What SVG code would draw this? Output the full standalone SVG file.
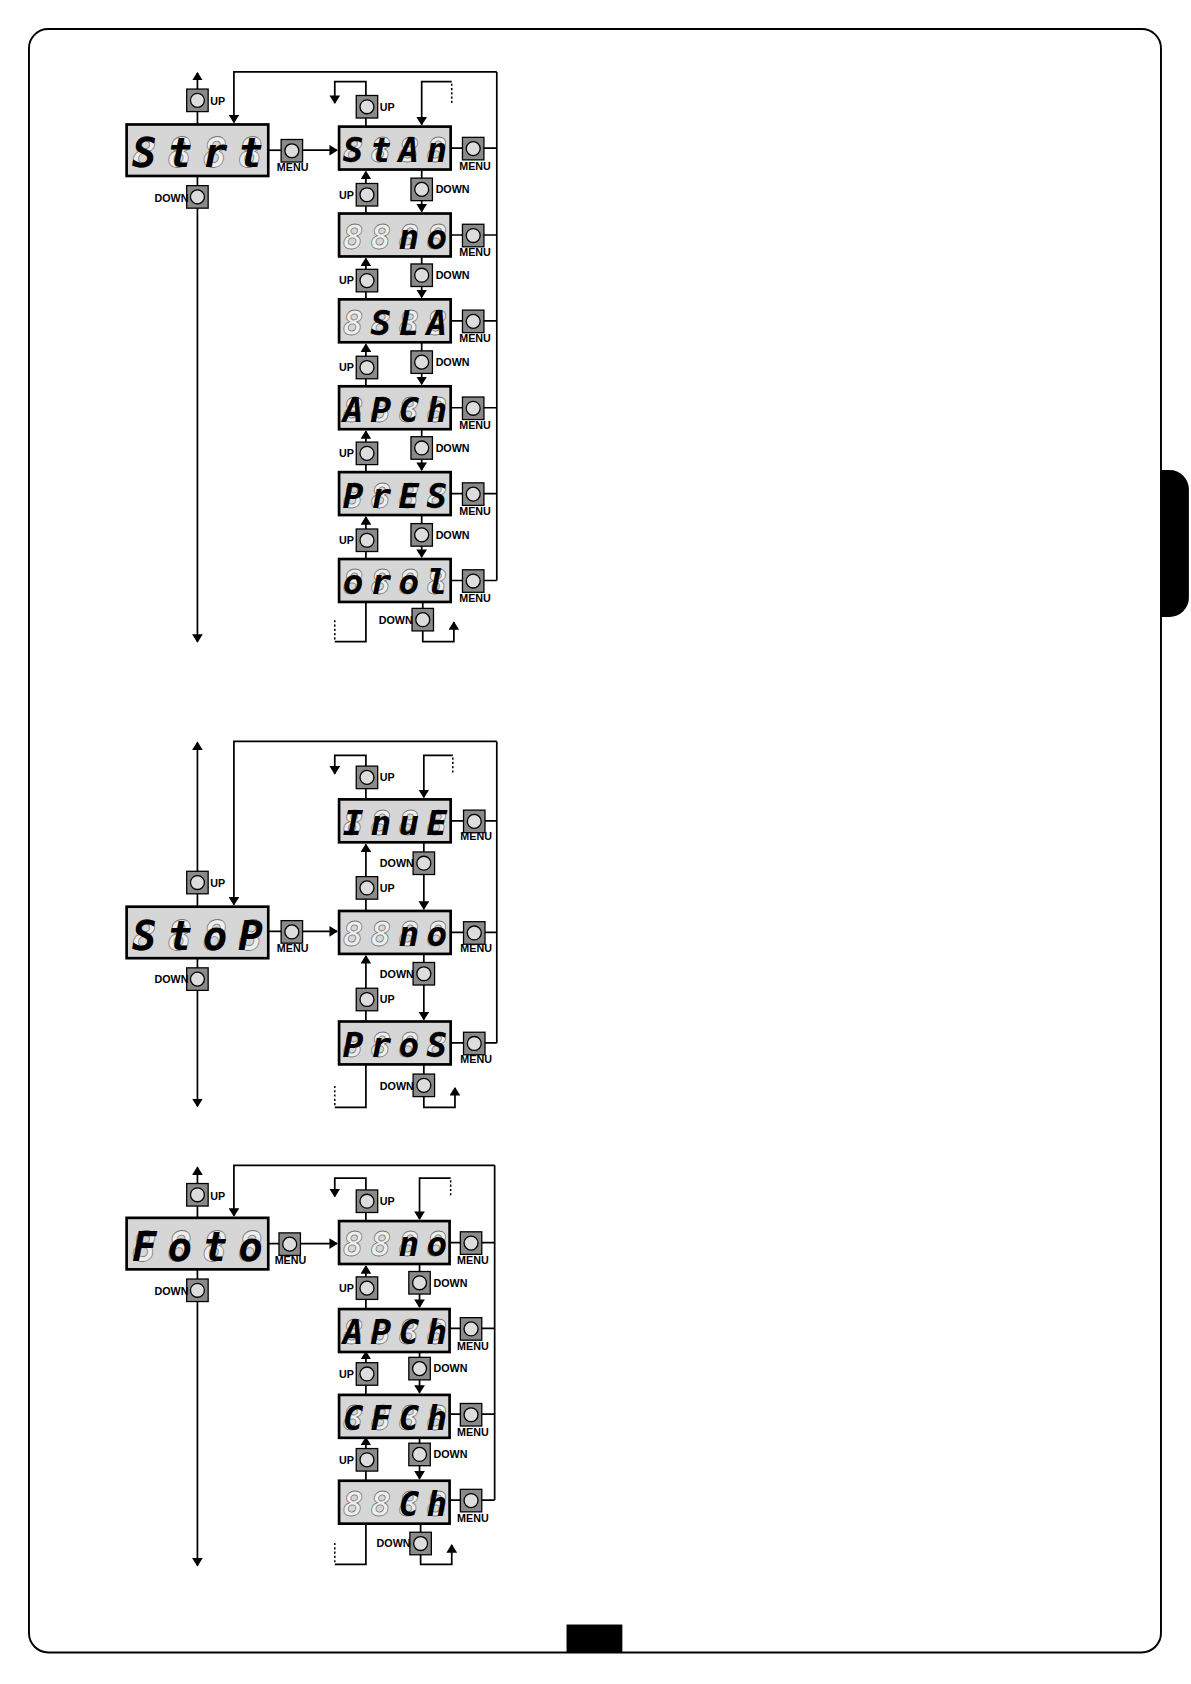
<svg xmlns="http://www.w3.org/2000/svg" xmlns:xlink="http://www.w3.org/1999/xlink" width="1191" height="1684" viewBox="0 0 1191 1684">
<style>
.c{fill:none;stroke:#000;stroke-width:1.6}
.a{fill:none;stroke:#000;stroke-width:1.6;marker-end:url(#ar)}
.d{fill:none;stroke:#000;stroke-width:1.4;stroke-dasharray:2,2}
.disp{fill:#d6d6d6;stroke:#000;stroke-width:2.5}
.lb{font-family:"Liberation Sans",Arial,sans-serif;font-weight:bold;font-size:10px;fill:#000}
.g{font-family:"DejaVu Sans Mono",monospace;font-weight:bold;font-style:italic;fill:#eee;stroke:#777;stroke-width:0.7;text-anchor:middle}
.l{font-family:"DejaVu Sans Mono",monospace;font-weight:bold;font-style:italic;fill:#000;text-anchor:middle}
.big{font-size:38px}.sm{font-size:32px}
</style>
<defs>
<marker id="ar" markerWidth="8" markerHeight="10" refX="7" refY="5" orient="auto" markerUnits="userSpaceOnUse"><path d="M0,0 L8,5 L0,10 z" fill="#000"/></marker>
<g id="btn"><rect width="20" height="21" fill="#8a8a8a" stroke="#000" stroke-width="1.2"/><circle cx="10" cy="10.5" r="6.5" fill="#ddd" stroke="#000" stroke-width="1.2"/></g>
</defs>
<rect width="1191" height="1684" fill="#fff"/>
<g transform="scale(1.073)">
<rect x="27" y="27" width="1055" height="1513" rx="18" fill="none" stroke="#000" stroke-width="1.8"/>
<path d="M1082,438 h8 a18,18 0 0 1 18,18 v101 a18,18 0 0 1 -18,18 h-8 z" fill="#000"/>
<rect x="528" y="1514" width="52" height="26" fill="#000"/>

<g id="connectors">
<!-- section 1 -->
<path class="a" d="M184,116 V68"/><path class="a" d="M184,164 V598"/>
<path class="a" d="M463,67 H218 V114"/><path class="c" d="M463,67 V541"/>
<path class="c" d="M250,140 H262"/><path class="a" d="M282,140 H314"/>
<path class="c" d="M420,138 H463 M420,219 H463 M420,299 H463 M420,380 H463 M420,460 H463 M420,541 H463"/>
<path class="a" d="M393,158 V197"/><path class="a" d="M341,199 V160"/>
<path class="a" d="M393,239 V277"/><path class="a" d="M341,279 V241"/>
<path class="a" d="M393,319 V358"/><path class="a" d="M341,360 V321"/>
<path class="a" d="M393,400 V438"/><path class="a" d="M341,440 V402"/>
<path class="a" d="M393,480 V519"/><path class="a" d="M341,521 V482"/>
<path class="a" d="M341,118 V76 H312 V96"/><path class="a" d="M421,76 H393 V116"/><path class="d" d="M421,78 V96"/>
<path class="c" d="M341,561 V598 H312"/><path class="d" d="M312,596 V578"/><path class="a" d="M394,561 V598 H423 V580"/>
<!-- section 2 -->
<path class="a" d="M184,845 V692"/><path class="a" d="M184,893 V1031"/>
<path class="a" d="M463,691 H218 V843"/><path class="c" d="M463,691 V972"/>
<path class="c" d="M250,868 H262"/><path class="a" d="M282,868 H314"/>
<path class="c" d="M420,765 H463 M420,869 H463 M420,972 H463"/>
<path class="a" d="M395,785 V847"/><path class="a" d="M341,849 V787"/>
<path class="a" d="M395,889 V950"/><path class="a" d="M341,952 V891"/>
<path class="a" d="M341,745 V704 H312 V721"/><path class="a" d="M422,704 H395 V743"/><path class="d" d="M422,706 V722"/>
<path class="c" d="M341,992 V1032 H312"/><path class="d" d="M312,1030 V1012"/><path class="a" d="M395,992 V1032 H424 V1014"/>
<!-- section 3 -->
<path class="a" d="M184,1135 V1088"/><path class="a" d="M184,1183 V1459"/>
<path class="a" d="M461,1086 H218 V1133"/><path class="c" d="M461,1086 V1398"/>
<path class="c" d="M250,1159 H260"/><path class="a" d="M280,1159 H314"/>
<path class="c" d="M419,1158 H461 M419,1238 H461 M419,1318 H461 M419,1398 H461"/>
<path class="a" d="M391,1178 V1218"/><path class="a" d="M341,1220 V1180"/>
<path class="a" d="M391,1258 V1298"/><path class="a" d="M341,1300 V1260"/>
<path class="a" d="M391,1338 V1378"/><path class="a" d="M341,1380 V1340"/>
<path class="a" d="M341,1138 V1098 H312 V1115"/><path class="a" d="M420,1098 H391 V1136"/><path class="d" d="M420,1100 V1116"/>
<path class="c" d="M341,1420 V1458 H312"/><path class="d" d="M312,1456 V1438"/><path class="a" d="M392,1420 V1458 H421 V1440"/>
</g>

<g id="buttons">
<use xlink:href="#btn" x="174" y="83"/><text class="lb" x="196" y="98">UP</text>
<use xlink:href="#btn" x="174" y="173"/><text class="lb" x="144" y="188">DOWN</text>
<use xlink:href="#btn" x="262" y="130"/><text class="lb" x="258" y="159">MENU</text>
<use xlink:href="#btn" x="332" y="89"/><text class="lb" x="354" y="103">UP</text>
<use xlink:href="#btn" x="431" y="128"/><text class="lb" x="428" y="158">MENU</text>
<use xlink:href="#btn" x="431" y="209"/><text class="lb" x="428" y="239">MENU</text>
<use xlink:href="#btn" x="431" y="289"/><text class="lb" x="428" y="319">MENU</text>
<use xlink:href="#btn" x="431" y="370"/><text class="lb" x="428" y="400">MENU</text>
<use xlink:href="#btn" x="431" y="450"/><text class="lb" x="428" y="480">MENU</text>
<use xlink:href="#btn" x="431" y="531"/><text class="lb" x="428" y="561">MENU</text>
<use xlink:href="#btn" x="332" y="171"/><text class="lb" x="316" y="185">UP</text>
<use xlink:href="#btn" x="383" y="166"/><text class="lb" x="406" y="180">DOWN</text>
<use xlink:href="#btn" x="332" y="251"/><text class="lb" x="316" y="265">UP</text>
<use xlink:href="#btn" x="383" y="246"/><text class="lb" x="406" y="260">DOWN</text>
<use xlink:href="#btn" x="332" y="332"/><text class="lb" x="316" y="346">UP</text>
<use xlink:href="#btn" x="383" y="327"/><text class="lb" x="406" y="341">DOWN</text>
<use xlink:href="#btn" x="332" y="412"/><text class="lb" x="316" y="426">UP</text>
<use xlink:href="#btn" x="383" y="407"/><text class="lb" x="406" y="421">DOWN</text>
<use xlink:href="#btn" x="332" y="493"/><text class="lb" x="316" y="507">UP</text>
<use xlink:href="#btn" x="383" y="488"/><text class="lb" x="406" y="502">DOWN</text>
<use xlink:href="#btn" x="384" y="567"/><text class="lb" x="353" y="582">DOWN</text>

<use xlink:href="#btn" x="174" y="812"/><text class="lb" x="196" y="827">UP</text>
<use xlink:href="#btn" x="174" y="902"/><text class="lb" x="144" y="916">DOWN</text>
<use xlink:href="#btn" x="262" y="858"/><text class="lb" x="258" y="887">MENU</text>
<use xlink:href="#btn" x="332" y="714"/><text class="lb" x="354" y="728">UP</text>
<use xlink:href="#btn" x="432" y="755"/><text class="lb" x="429" y="783">MENU</text>
<use xlink:href="#btn" x="432" y="859"/><text class="lb" x="429" y="887">MENU</text>
<use xlink:href="#btn" x="432" y="962"/><text class="lb" x="429" y="991">MENU</text>
<use xlink:href="#btn" x="385" y="794"/><text class="lb" x="354" y="808">DOWN</text>
<use xlink:href="#btn" x="332" y="817"/><text class="lb" x="354" y="831">UP</text>
<use xlink:href="#btn" x="385" y="897"/><text class="lb" x="354" y="911">DOWN</text>
<use xlink:href="#btn" x="332" y="921"/><text class="lb" x="354" y="935">UP</text>
<use xlink:href="#btn" x="385" y="1001"/><text class="lb" x="354" y="1016">DOWN</text>

<use xlink:href="#btn" x="174" y="1103"/><text class="lb" x="196" y="1118">UP</text>
<use xlink:href="#btn" x="174" y="1192"/><text class="lb" x="144" y="1207">DOWN</text>
<use xlink:href="#btn" x="260" y="1149"/><text class="lb" x="256" y="1178">MENU</text>
<use xlink:href="#btn" x="332" y="1109"/><text class="lb" x="354" y="1123">UP</text>
<use xlink:href="#btn" x="429" y="1148"/><text class="lb" x="426" y="1178">MENU</text>
<use xlink:href="#btn" x="429" y="1228"/><text class="lb" x="426" y="1258">MENU</text>
<use xlink:href="#btn" x="429" y="1308"/><text class="lb" x="426" y="1338">MENU</text>
<use xlink:href="#btn" x="429" y="1388"/><text class="lb" x="426" y="1418">MENU</text>
<use xlink:href="#btn" x="332" y="1190"/><text class="lb" x="316" y="1204">UP</text>
<use xlink:href="#btn" x="381" y="1185"/><text class="lb" x="404" y="1199">DOWN</text>
<use xlink:href="#btn" x="332" y="1270"/><text class="lb" x="316" y="1284">UP</text>
<use xlink:href="#btn" x="381" y="1265"/><text class="lb" x="404" y="1279">DOWN</text>
<use xlink:href="#btn" x="332" y="1350"/><text class="lb" x="316" y="1364">UP</text>
<use xlink:href="#btn" x="381" y="1345"/><text class="lb" x="404" y="1359">DOWN</text>
<use xlink:href="#btn" x="382" y="1428"/><text class="lb" x="351" y="1442">DOWN</text>
</g>

<!-- displays -->
<g id="d-strt"><rect class="disp" x="118" y="116" width="132" height="48"/>
<text class="g big" y="156"><tspan x="134.5">8</tspan><tspan x="167.5">8</tspan><tspan x="200.5">8</tspan><tspan x="233.5">8</tspan></text>
<text class="l big" y="156"><tspan x="134.5">S</tspan><tspan x="167.5">t</tspan><tspan x="200.5">r</tspan><tspan x="233.5">t</tspan></text></g>
<g id="d-stop"><rect class="disp" x="118" y="845" width="132" height="48"/>
<text class="g big" y="885"><tspan x="134.5">8</tspan><tspan x="167.5">8</tspan><tspan x="200.5">8</tspan><tspan x="233.5">8</tspan></text>
<text class="l big" y="885"><tspan x="134.5">S</tspan><tspan x="167.5">t</tspan><tspan x="200.5">o</tspan><tspan x="233.5">P</tspan></text></g>
<g id="d-foto"><rect class="disp" x="118" y="1135" width="132" height="48"/>
<text class="g big" y="1175"><tspan x="134.5">8</tspan><tspan x="167.5">8</tspan><tspan x="200.5">8</tspan><tspan x="233.5">8</tspan></text>
<text class="l big" y="1175"><tspan x="134.5">F</tspan><tspan x="167.5">o</tspan><tspan x="200.5">t</tspan><tspan x="233.5">o</tspan></text></g>

<g id="d-stan"><rect class="disp" x="316" y="118" width="104" height="40"/>
<text class="g sm" y="151"><tspan x="329">8</tspan><tspan x="355">8</tspan><tspan x="381">8</tspan><tspan x="407">8</tspan></text>
<text class="l sm" y="151"><tspan x="329">S</tspan><tspan x="355">t</tspan><tspan x="381">A</tspan><tspan x="407">n</tspan></text></g>
<g id="d-no1"><rect class="disp" x="316" y="199" width="104" height="40"/>
<text class="g sm" y="232"><tspan x="329">8</tspan><tspan x="355">8</tspan><tspan x="381">8</tspan><tspan x="407">8</tspan></text>
<text class="l sm" y="232"><tspan x="381">n</tspan><tspan x="407">o</tspan></text></g>
<g id="d-sla"><rect class="disp" x="316" y="279" width="104" height="40"/>
<text class="g sm" y="312"><tspan x="329">8</tspan><tspan x="355">8</tspan><tspan x="381">8</tspan><tspan x="407">8</tspan></text>
<text class="l sm" y="312"><tspan x="355">S</tspan><tspan x="381">L</tspan><tspan x="407">A</tspan></text></g>
<g id="d-apch1"><rect class="disp" x="316" y="360" width="104" height="40"/>
<text class="g sm" y="393"><tspan x="329">8</tspan><tspan x="355">8</tspan><tspan x="381">8</tspan><tspan x="407">8</tspan></text>
<text class="l sm" y="393"><tspan x="329">A</tspan><tspan x="355">P</tspan><tspan x="381">C</tspan><tspan x="407">h</tspan></text></g>
<g id="d-pres"><rect class="disp" x="316" y="440" width="104" height="40"/>
<text class="g sm" y="473"><tspan x="329">8</tspan><tspan x="355">8</tspan><tspan x="381">8</tspan><tspan x="407">8</tspan></text>
<text class="l sm" y="473"><tspan x="329">P</tspan><tspan x="355">r</tspan><tspan x="381">E</tspan><tspan x="407">S</tspan></text></g>
<g id="d-orol"><rect class="disp" x="316" y="521" width="104" height="40"/>
<text class="g sm" y="554"><tspan x="329">8</tspan><tspan x="355">8</tspan><tspan x="381">8</tspan><tspan x="407">8</tspan></text>
<text class="l sm" y="554"><tspan x="329">o</tspan><tspan x="355">r</tspan><tspan x="381">o</tspan><tspan x="407">l</tspan></text></g>

<g id="d-inue"><rect class="disp" x="316" y="745" width="104" height="40"/>
<text class="g sm" y="778"><tspan x="329">8</tspan><tspan x="355">8</tspan><tspan x="381">8</tspan><tspan x="407">8</tspan></text>
<text class="l sm" y="778"><tspan x="329">I</tspan><tspan x="355">n</tspan><tspan x="381">u</tspan><tspan x="407">E</tspan></text></g>
<g id="d-no2"><rect class="disp" x="316" y="849" width="104" height="40"/>
<text class="g sm" y="882"><tspan x="329">8</tspan><tspan x="355">8</tspan><tspan x="381">8</tspan><tspan x="407">8</tspan></text>
<text class="l sm" y="882"><tspan x="381">n</tspan><tspan x="407">o</tspan></text></g>
<g id="d-pros"><rect class="disp" x="316" y="952" width="104" height="40"/>
<text class="g sm" y="985"><tspan x="329">8</tspan><tspan x="355">8</tspan><tspan x="381">8</tspan><tspan x="407">8</tspan></text>
<text class="l sm" y="985"><tspan x="329">P</tspan><tspan x="355">r</tspan><tspan x="381">o</tspan><tspan x="407">S</tspan></text></g>

<g id="d-no3"><rect class="disp" x="316" y="1138" width="103" height="40"/>
<text class="g sm" y="1171"><tspan x="329">8</tspan><tspan x="355">8</tspan><tspan x="381">8</tspan><tspan x="407">8</tspan></text>
<text class="l sm" y="1171"><tspan x="381">n</tspan><tspan x="407">o</tspan></text></g>
<g id="d-apch2"><rect class="disp" x="316" y="1220" width="103" height="40"/>
<text class="g sm" y="1253"><tspan x="329">8</tspan><tspan x="355">8</tspan><tspan x="381">8</tspan><tspan x="407">8</tspan></text>
<text class="l sm" y="1253"><tspan x="329">A</tspan><tspan x="355">P</tspan><tspan x="381">C</tspan><tspan x="407">h</tspan></text></g>
<g id="d-cfch"><rect class="disp" x="316" y="1300" width="103" height="40"/>
<text class="g sm" y="1333"><tspan x="329">8</tspan><tspan x="355">8</tspan><tspan x="381">8</tspan><tspan x="407">8</tspan></text>
<text class="l sm" y="1333"><tspan x="329">C</tspan><tspan x="355">F</tspan><tspan x="381">C</tspan><tspan x="407">h</tspan></text></g>
<g id="d-ch"><rect class="disp" x="316" y="1380" width="103" height="40"/>
<text class="g sm" y="1413"><tspan x="329">8</tspan><tspan x="355">8</tspan><tspan x="381">8</tspan><tspan x="407">8</tspan></text>
<text class="l sm" y="1413"><tspan x="381">C</tspan><tspan x="407">h</tspan></text></g>
</g>
</svg>
